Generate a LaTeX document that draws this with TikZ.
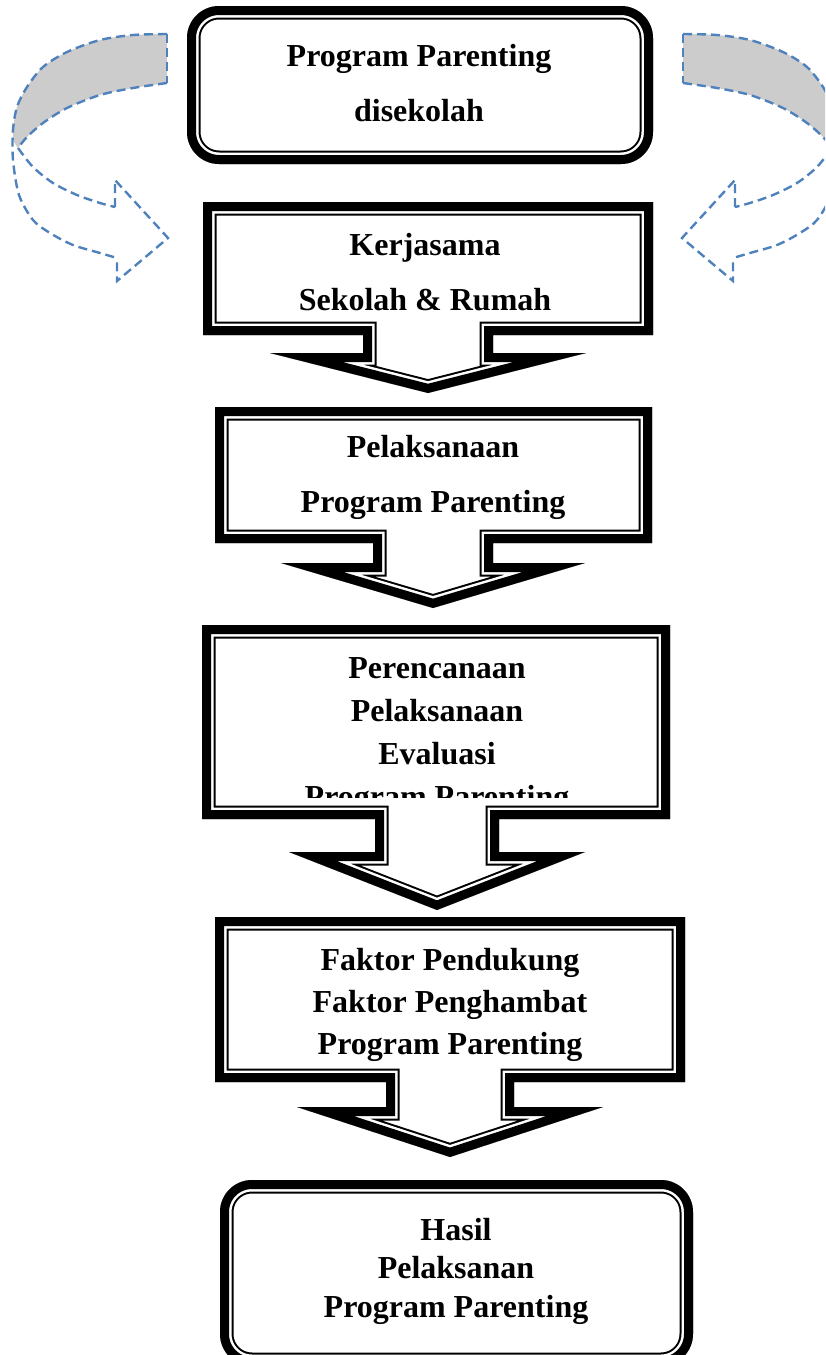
\documentclass[tikz,border=0pt]{standalone}
\usepackage{fontspec}
\setmainfont{Liberation Serif}
\definecolor{arrowblue}{HTML}{4F81BD}
\definecolor{shadegrey}{HTML}{CCCCCC}
\newcommand{\setcallout}[9]{\def\curpath{(#1,#2) -- (#3,#2) -- (#3,#4) -- ({#5+#6},#4) -- ({#5+#6},#7) -- ({#5+#8},#7) -- (#5,#9) -- ({#5-#8},#7) -- ({#5-#6},#7) -- ({#5-#6},#4) -- (#1,#4) -- cycle}}
\newcommand{\setroundbox}[4]{\def\curpath{(#1,#2) rectangle (#3,#4)}}
\newcommand{\dblborder}[1][]{%
  \fill[white,#1] \curpath;
  \begin{scope}[#1]
    \clip \curpath;
    \draw[black,line width=27pt,line join=miter] \curpath;
    \draw[white,line width=23pt,line join=miter] \curpath;
    \draw[black,line width=18pt,line join=miter] \curpath;
  \end{scope}}
\newcommand{\curvedarrow}{%
  \fill[shadegrey] plot[smooth] coordinates {(167,34) (133,35) (100,40) (67,52) (43,67) (27,87) (17,107) (13,130) (14,142)} -- (18,148) -- plot[smooth] coordinates {(18,148) (27,137) (43,123) (67,108) (100,95) (133,88) (167,83)} -- cycle;
  \draw[dashline] plot[smooth] coordinates {(167,34) (133,35) (100,40) (67,52) (43,67) (27,87) (17,107) (13,130) (13,160) (19,195) (33,220) (50,233) (73,245) (100,253) (117,258)};
  \draw[dashline] (167,34) -- (167,83);
  \draw[dashline] plot[smooth] coordinates {(167,83) (133,88) (100,95) (67,108) (43,123) (27,137) (18,148)};
  \draw[dashline] plot[smooth] coordinates {(18,148) (33,167) (53,183) (77,195) (100,203) (115,207)};
  \draw[dashline,line join=miter] (115,207) -- (115,180) -- (168,238) -- (117,281) -- (117,258);}
\begin{document}
\begin{tikzpicture}[x=1pt,y=-1pt,
  dashline/.style={draw=arrowblue,line width=2.4pt,dash pattern=on 9pt off 5pt},
  txt/.style={anchor=north,inner sep=0pt,align=center}]
\useasboundingbox (0,0) rectangle (825,1355);
\clip (0,0) rectangle (825,1355);

% curved dashed arrows
\begin{scope}
  \curvedarrow
\end{scope}
\begin{scope}[shift={(850,0)},xscale=-1]
  \curvedarrow
\end{scope}

% top rounded box
\setroundbox{187}{6}{653}{164}
\dblborder[rounded corners=32pt]
\node[txt,font={\fontsize{32}{55}\selectfont\bfseries}] (t0) at (419,27.5)
  {\strut Program Parenting\\\strut disekolah};

% callout 1
\setcallout{203}{202}{653}{335}{428}{65}{353}{158}{393}
\dblborder
\node[txt,font={\fontsize{32}{55}\selectfont\bfseries}] (t1) at (425,216.5)
  {\strut Kerjasama\\\strut Sekolah \& Rumah};

% callout 2
\setcallout{215}{407}{652}{543}{433}{60}{563}{152}{608}
\dblborder
\node[txt,font={\fontsize{32}{55}\selectfont\bfseries}] (t2) at (433,418.5)
  {\strut Pelaksanaan\\\strut Program Parenting};

% callout 3
\setcallout{202}{625}{670}{819}{437}{62}{852}{148}{910}
\dblborder
\begin{scope}
  \clip (0,0) rectangle (825,797);
  \node[txt,font={\fontsize{32}{43}\selectfont\bfseries}] (t3) at (437,647.9)
    {\strut Perencanaan\\\strut Pelaksanaan\\\strut Evaluasi\\\strut Program Parenting};
\end{scope}

% callout 4
\setcallout{215}{917}{685}{1082}{450}{64}{1107}{153}{1157}
\dblborder
\begin{scope}
  \clip (0,0) rectangle (825,1061);
  \node[txt,font={\fontsize{32}{42}\selectfont\bfseries}] (t4) at (450,940.6)
    {\strut Faktor Pendukung\\\strut Faktor Penghambat\\\strut Program Parenting};
\end{scope}

% bottom rounded box
\setroundbox{220}{1180}{693}{1366}
\dblborder[rounded corners=32pt]
\node[txt,font={\fontsize{32}{38.5}\selectfont\bfseries}] (t5) at (456,1213)
  {\strut Hasil\\\strut Pelaksanan\\\strut Program Parenting};
\end{tikzpicture}
\end{document}
